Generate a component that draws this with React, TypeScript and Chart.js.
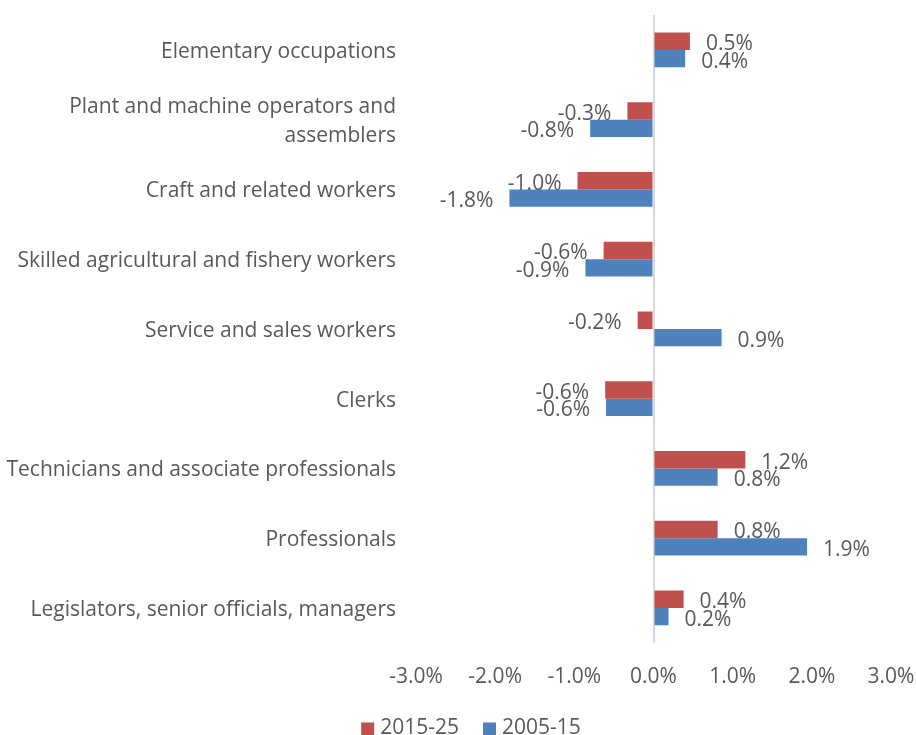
import React, { useEffect, useRef } from "react";
import { Chart, registerables } from "chart.js";

Chart.register(...registerables);

const categories: (string | string[])[] = [
  "Elementary occupations",
  ["Plant and machine operators and", "assemblers"],
  "Craft and related workers",
  "Skilled agricultural and fishery workers",
  "Service and sales workers",
  "Clerks",
  "Technicians and associate professionals",
  "Professionals",
  "Legislators, senior officials, managers",
];

const series2015_25 = [0.46, -0.33, -0.96, -0.63, -0.2, -0.61, 1.16, 0.81, 0.38];
const series2005_15 = [0.4, -0.8, -1.82, -0.86, 0.86, -0.6, 0.81, 1.94, 0.19];

const seriesNames = ["2015-25", "2005-15"];
const seriesColors = ["#C0504D", "#4F81BD"];
const xTicks = { min: -3, max: 3, step: 1 };

const FONT = "'Open Sans', sans-serif";
const TEXT = "#595959";
const SIZE = 21;

const labelPlugin = {
  id: "barLabels",
  afterDatasetsDraw(chart: any) {
    const ctx = chart.ctx;
    ctx.save();
    ctx.font = `${SIZE}px ${FONT}`;
    ctx.fillStyle = TEXT;
    ctx.textBaseline = "middle";
    chart.data.datasets.forEach((ds: any, di: number) => {
      const meta = chart.getDatasetMeta(di);
      meta.data.forEach((bar: any, i: number) => {
        const v = ds.data[i];
        const txt = v.toFixed(1) + "%";
        const off = 16;
        if (v >= 0) {
          ctx.textAlign = "left";
          ctx.fillText(txt, bar.x + off, bar.y + 3);
        } else {
          ctx.textAlign = "right";
          ctx.fillText(txt, bar.x - off, bar.y + 3);
        }
      });
    });
    ctx.restore();
  },
};

const legendPlugin = {
  id: "customLegend",
  afterDraw(chart: any) {
    const ctx = chart.ctx;
    ctx.save();
    ctx.font = `${SIZE}px ${FONT}`;
    ctx.textBaseline = "middle";
    ctx.textAlign = "left";
    const box = 13;
    const gap = 6;
    const itemGap = 24;
    const items = chart.data.datasets.map((ds: any) => ({
      label: ds.label,
      color: ds.backgroundColor,
      w: box + gap + ctx.measureText(ds.label).width,
    }));
    const total = items.reduce((s: number, it: any) => s + it.w, 0) + itemGap * (items.length - 1);
    let x = 471 - total / 2;
    const y = 728;
    items.forEach((it: any) => {
      ctx.fillStyle = it.color;
      ctx.fillRect(x, y - box / 2 + 1, box, box);
      ctx.fillStyle = TEXT;
      ctx.fillText(it.label, x + box + gap, y);
      x += it.w + itemGap;
    });
    ctx.restore();
  },
};

export default function App() {
  const ref = useRef<HTMLCanvasElement>(null);
  useEffect(() => {
    if (!ref.current) return;
    const chart = new Chart(ref.current, {
      type: "bar",
      data: {
        labels: categories,
        datasets: [
          {
            label: seriesNames[0],
            data: series2015_25,
            backgroundColor: seriesColors[0],
            categoryPercentage: 0.5,
            barPercentage: 1.0,
          },
          {
            label: seriesNames[1],
            data: series2005_15,
            backgroundColor: seriesColors[1],
            categoryPercentage: 0.5,
            barPercentage: 1.0,
          },
        ],
      },
      options: {
        indexAxis: "y",
        animation: false,
        responsive: false,
        maintainAspectRatio: false,
        layout: { padding: { top: 15, right: 25, bottom: 23, left: 0 } },
        plugins: {
          legend: { display: false },
          tooltip: { enabled: false },
        },
        scales: {
          x: {
            min: xTicks.min,
            max: xTicks.max,
            ticks: {
              stepSize: xTicks.step,
              callback: (v: any) => Number(v).toFixed(1) + "%",
              font: { family: FONT, size: SIZE },
              color: TEXT,
              padding: 22,
            },
            grid: {
              drawTicks: false,
              color: (c: any) => (c.tick && c.tick.value === 0 ? "#D9D9D9" : "rgba(0,0,0,0)"),
              lineWidth: 2,
            },
            border: { display: false },
            afterFit: (scale: any) => {
              scale.paddingLeft = 0;
              scale.paddingRight = 0;
            },
          },
          y: {
            ticks: {
              font: { family: FONT, size: SIZE, lineHeight: 1.4 },
              color: TEXT,
              padding: 20,
              labelOffset: 2,
            },
            grid: { display: false, drawTicks: false },
            border: { display: false },
            afterFit: (scale: any) => {
              scale.width = 416;
              scale.paddingTop = 0;
              scale.paddingBottom = 0;
            },
          },
        },
      },
      plugins: [labelPlugin, legendPlugin],
    });
    return () => chart.destroy();
  }, []);
  return (
    <div style={{ position: "absolute", left: 0, top: 0, width: 916, height: 735, background: "#fff" }}>
      <canvas ref={ref} width={916} height={735} style={{ width: 916, height: 735 }} />
    </div>
  );
}
